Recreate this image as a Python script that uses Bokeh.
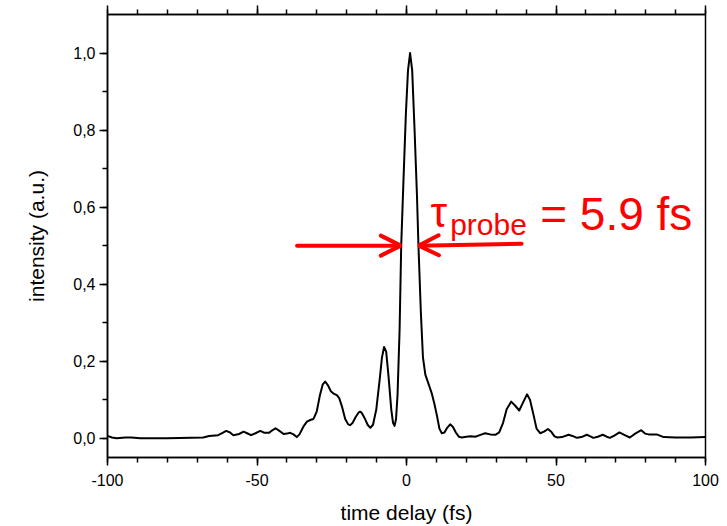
from bokeh.plotting import figure
from bokeh.models import (FixedTicker, LinearAxis, CustomJSTickFormatter, Arrow, OpenHead, Label, Range1d)
from bokeh.embed import file_html
from bokeh.resources import INLINE

# time delay (fs)
delay = [-100, -98.5, -97, -94, -92, -89, -80, -72, -68, -66, -63, -61.5, -60.3, -59, -57.9, -56, -54.5,
         -53.3, -52, -50.5, -48.9, -47.5, -46, -45, -43.8, -42.5, -41.1, -40, -38.9, -37.8, -36.7, -35.8,
         -34.5, -33.3, -32, -31.1, -30, -29, -28, -27.2, -26.3, -25.3, -24.4, -23.3, -22.5, -21.5, -20.5,
         -19.5, -18.8, -18, -17, -16, -15.5, -15, -14, -13, -12.1, -11.2, -10.1, -9, -8.2, -7.5, -6.8, -6,
         -5.1, -4.5, -4.0, -3.5, -3.0, -2.3, -1.77, -1.0, -0.2, 0.5, 1.2, 1.9, 2.7, 3.5, 4.0, 4.8, 5.5, 6.3,
         7.2, 8.5, 9.3, 10.2, 11.0, 11.8, 12.7, 13.6, 14.6, 15.5, 16.5, 17.5, 18.5, 20, 21.5, 23, 24.5, 26.3,
         28, 29.7, 31, 32.3, 33.5, 35, 36.3, 37.7, 38.8, 40.3, 41.3, 42.5, 43.5, 44.7, 46, 47.3, 48.5, 49.5,
         50.5, 52, 54.2, 55.5, 57, 58.5, 60.3, 61.5, 62.5, 64, 65.6, 67, 68, 69.5, 71.2, 73, 74.7, 76.5, 78.5,
         79.8, 81, 83.7, 86, 90, 95, 100]
# intensity (a.u.)
intensity = [0.006, 0.002, 0.0, 0.002, 0.002, 0.0, 0.0, 0.001, 0.002, 0.006, 0.008, 0.014, 0.019, 0.015,
             0.008, 0.011, 0.017, 0.013, 0.008, 0.013, 0.019, 0.014, 0.014, 0.02, 0.026, 0.019, 0.011, 0.012,
             0.014, 0.01, 0.003, 0.01, 0.03, 0.043, 0.048, 0.05, 0.07, 0.11, 0.14, 0.147, 0.138, 0.122, 0.116,
             0.112, 0.104, 0.08, 0.05, 0.036, 0.034, 0.04, 0.055, 0.067, 0.069, 0.066, 0.052, 0.035, 0.027,
             0.035, 0.075, 0.15, 0.21, 0.237, 0.225, 0.16, 0.075, 0.04, 0.032, 0.05, 0.112, 0.284, 0.50, 0.672,
             0.844, 0.955, 1.0, 0.955, 0.80, 0.63, 0.50, 0.327, 0.21, 0.165, 0.145, 0.115, 0.09, 0.058, 0.025,
             0.013, 0.015, 0.027, 0.036, 0.03, 0.015, 0.004, 0.002, 0.004, 0.005, 0.004, 0.008, 0.013, 0.01,
             0.009, 0.015, 0.04, 0.075, 0.095, 0.085, 0.072, 0.09, 0.114, 0.1, 0.06, 0.025, 0.013, 0.017, 0.024,
             0.016, 0.005, 0.002, 0.003, 0.009, 0.006, 0.001, 0.003, 0.009, 0.005, 0.001, 0.004, 0.009, 0.004,
             0.001, 0.007, 0.015, 0.008, 0.002, 0.012, 0.021, 0.012, 0.01, 0.01, 0.003, 0.002, 0.002, 0.003]

x_major = [-100, -50, 0, 50, 100]
x_minor = list(range(-100, 101, 10))
y_major = [0.0, 0.2, 0.4, 0.6, 0.8, 1.0]
y_minor = [0.0, 0.1, 0.2, 0.3, 0.4, 0.5, 0.6, 0.7, 0.8, 0.9, 1.0]

FONT = "Liberation Sans"
RED = "#ff0000"

p = figure(width=727, height=526, output_backend="svg", toolbar_location=None,
           x_range=Range1d(-100, 100), y_range=Range1d(-0.05, 1.1),
           min_border_left=107, min_border_right=22, min_border_top=14, min_border_bottom=67,
           x_axis_label="time delay (fs)", y_axis_label="intensity (a.u.)")
p.grid.visible = False
p.background_fill_color = "white"
p.border_fill_color = "white"
p.outline_line_color = "black"
p.outline_line_width = 1.5
p.outline_line_alpha = 1

p.xaxis.ticker = FixedTicker(ticks=x_major, minor_ticks=x_minor)
p.yaxis.ticker = FixedTicker(ticks=y_major, minor_ticks=y_minor)
p.xaxis.formatter = CustomJSTickFormatter(code="return String(Math.round(tick));")
p.yaxis.formatter = CustomJSTickFormatter(code="return tick.toFixed(1).replace('.', ',');")

for ax in (p.xaxis[0], p.yaxis[0]):
    ax.axis_line_width = 1.5
    ax.major_tick_line_width = 1.5
    ax.minor_tick_line_width = 1.5
    ax.major_tick_in = 0
    ax.minor_tick_in = 0
    ax.major_label_text_font = FONT
    ax.major_label_text_font_size = "16px"
    ax.major_label_text_color = "black"
    ax.axis_label_text_font = FONT
    ax.axis_label_text_font_size = "21px"
    ax.axis_label_text_font_style = "normal"
    ax.axis_label_text_color = "black"

p.xaxis.major_tick_out = 8
p.xaxis.minor_tick_out = 5
p.xaxis.major_label_standoff = 8
p.xaxis.axis_label_standoff = 12
p.yaxis.major_tick_out = 8
p.yaxis.minor_tick_out = 5
p.yaxis.major_label_standoff = 4
p.yaxis.axis_label_standoff = 22

top = LinearAxis(ticker=FixedTicker(ticks=x_major, minor_ticks=x_minor),
                 formatter=CustomJSTickFormatter(code="return '';"))
top.axis_line_width = 1.5
top.major_tick_line_width = 1.5
top.minor_tick_line_width = 1.5
top.major_tick_in = 0
top.minor_tick_in = 0
top.major_tick_out = 9
top.minor_tick_out = 5
top.major_label_standoff = 0
top.major_label_text_font_size = "1px"
p.add_layout(top, "above")

p.line(delay, intensity, line_color="black", line_width=2, line_join="round")

# FWHM arrows
p.add_layout(Arrow(x_start=-36.6, y_start=0.5, x_end=-1.9, y_end=0.5,
                   line_color=RED, line_width=4, line_cap="round",
                   end=OpenHead(size=20, line_color=RED, line_width=4, line_cap="round")))
p.add_layout(Arrow(x_start=38.5, y_start=0.505, x_end=4.1, y_end=0.5,
                   line_color=RED, line_width=4, line_cap="round",
                   end=OpenHead(size=20, line_color=RED, line_width=4, line_cap="round")))

p.add_layout(Label(x=8.0, y=0.586, text="τ", text_font=FONT, text_font_size="42px",
                   text_color=RED, text_baseline="alphabetic", text_align="left"))
p.add_layout(Label(x=14.6, y=0.556, text="probe", text_font=FONT, text_font_size="30px",
                   text_color=RED, text_baseline="alphabetic", text_align="left"))
p.add_layout(Label(x=44.7, y=0.581, text="= 5.9 fs", text_font=FONT, text_font_size="46px",
                   text_color=RED, text_baseline="alphabetic", text_align="left"))

open("out.html", "w").write(file_html(p, INLINE))
